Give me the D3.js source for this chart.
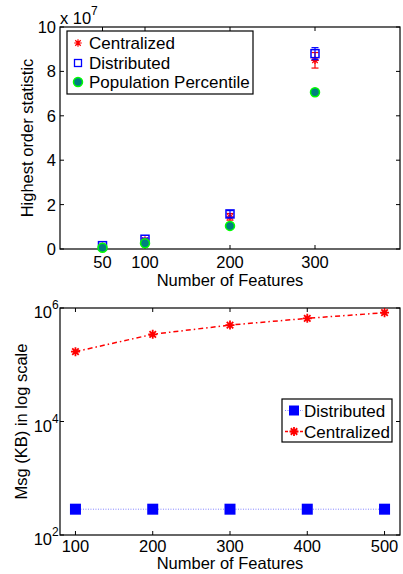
<!DOCTYPE html>
<html><head><meta charset="utf-8">
<script src="https://cdn.jsdelivr.net/npm/d3@7"></script>
<style>
html,body{margin:0;padding:0;background:#fff;}
text{font-family:"Liberation Sans",Arial,Helvetica,sans-serif;fill:#000;}
</style></head>
<body>
<svg id="c" width="403" height="574"></svg>
<script>
// ---------- data: top chart ----------
const featuresTop = [50, 100, 200, 300];
const xTicksTop = [50, 100, 200, 300];
const yTicksTop = [0, 2, 4, 6, 8, 10];
const centralizedMean = [0.12, 0.40, 1.45, 8.50];
const centralizedErr  = [0.03, 0.05, 0.15, 0.35];
const distributedMean = [0.15, 0.44, 1.58, 8.80];
const distributedErr  = [0.04, 0.05, 0.15, 0.27];
const percentile      = [0.06, 0.26, 1.04, 7.06];
const legendTop = ["Centralized", "Distributed", "Population Percentile"];

// ---------- data: bottom chart ----------
const featuresBottom = [100, 200, 300, 400, 500];
const xTicksBottom = [100, 200, 300, 400, 500];
const yTicksBottom = [100, 10000, 1000000];
const distributedKB = [285, 285, 285, 285, 285];
const centralizedKB = [170000, 344000, 500000, 658000, 826000];
const legendBottom = ["Distributed", "Centralized"];

const svg = d3.select("#c");
const FS = 17;     // legend text
const FT = 16.5;   // tick labels
const FL = 16.5;   // axis labels
const TL = 4;

function starPath(cx, cy, r) {
  const d = r * 0.72;
  return `M${cx - r},${cy}L${cx + r},${cy}M${cx},${cy - r}L${cx},${cy + r}` +
         `M${cx - d},${cy - d}L${cx + d},${cy + d}M${cx - d},${cy + d}L${cx + d},${cy - d}`;
}

function frame(g, x0, x1, y0, y1) {
  g.append("rect").attr("x", x0).attr("y", y0).attr("width", x1 - x0).attr("height", y1 - y0)
    .attr("fill", "none").attr("stroke", "#000").attr("stroke-width", 1.2);
}

// ================= TOP CHART =================
const xT = d3.scaleLinear().domain([0, 400]).range([60, 400]);
const yT = d3.scaleLinear().domain([0, 10]).range([249, 27]);
const gT = svg.append("g");

xTicksTop.forEach(v => {
  const x = xT(v);
  gT.append("line").attr("x1", x).attr("x2", x).attr("y1", yT(0)).attr("y2", yT(0) - TL).attr("stroke", "#000");
  gT.append("line").attr("x1", x).attr("x2", x).attr("y1", yT(10)).attr("y2", yT(10) + TL).attr("stroke", "#000");
  gT.append("text").attr("x", x).attr("y", 267.5).attr("text-anchor", "middle").attr("font-size", FT).text(v);
});
yTicksTop.forEach(v => {
  const y = yT(v);
  gT.append("line").attr("x1", 60).attr("x2", 60 + TL).attr("y1", y).attr("y2", y).attr("stroke", "#000");
  gT.append("line").attr("x1", 400).attr("x2", 400 - TL).attr("y1", y).attr("y2", y).attr("stroke", "#000");
  gT.append("text").attr("x", 56).attr("y", y + 6).attr("text-anchor", "end").attr("font-size", FT).text(v);
});
frame(gT, 60, 400, 27, 249);

// exponent label
gT.append("text").attr("x", 60).attr("y", 24).attr("font-size", FT).text("x 10");
gT.append("text").attr("x", 91).attr("y", 15).attr("font-size", 12).text("7");

gT.append("text").attr("x", 230).attr("y", 286).attr("text-anchor", "middle").attr("font-size", FL).text("Number of Features");
gT.append("text").attr("transform", `translate(33,${(27 + 249) / 2}) rotate(-90)`)
  .attr("text-anchor", "middle").attr("font-size", FL).text("Highest order statistic");

function errbar(g, x, m, e, color, cap) {
  const y1 = yT(m - e), y2 = yT(m + e);
  g.append("line").attr("x1", x).attr("x2", x).attr("y1", y1).attr("y2", y2).attr("stroke", color).attr("stroke-width", 1.2);
  g.append("line").attr("x1", x - cap).attr("x2", x + cap).attr("y1", y1).attr("y2", y1).attr("stroke", color).attr("stroke-width", 1.2);
  g.append("line").attr("x1", x - cap).attr("x2", x + cap).attr("y1", y2).attr("y2", y2).attr("stroke", color).attr("stroke-width", 1.2);
}

featuresTop.forEach((f, i) => {
  errbar(gT, xT(f), centralizedMean[i], centralizedErr[i], "#ff0000", 3.5);
  gT.append("path").attr("d", starPath(xT(f), yT(centralizedMean[i]), 3.8))
    .attr("stroke", "#ff0000").attr("stroke-width", 1.2).attr("fill", "none");
});
featuresTop.forEach((f, i) => {
  errbar(gT, xT(f), distributedMean[i], distributedErr[i], "#0000ff", 3.5);
  gT.append("rect").attr("x", xT(f) - 4).attr("y", yT(distributedMean[i]) - 4).attr("width", 8).attr("height", 8)
    .attr("fill", "none").attr("stroke", "#0000ff").attr("stroke-width", 1.5);
});
featuresTop.forEach((f, i) => {
  gT.append("circle").attr("cx", xT(f)).attr("cy", yT(percentile[i])).attr("r", 4.5)
    .attr("fill", "#007f7f").attr("stroke", "#00ff00").attr("stroke-width", 1.5);
});

const lgT = gT.append("g");
lgT.append("rect").attr("x", 67).attr("y", 31).attr("width", 186).attr("height", 63)
  .attr("fill", "#fff").attr("stroke", "#000").attr("stroke-width", 1.2);
const rowsT = [43, 63, 82];
legendTop.forEach((name, i) => {
  const cy = rowsT[i];
  if (i === 0) lgT.append("path").attr("d", starPath(78, cy, 3.8)).attr("stroke", "#ff0000").attr("stroke-width", 1.2).attr("fill", "none");
  if (i === 1) lgT.append("rect").attr("x", 74.5).attr("y", cy - 3.5).attr("width", 7).attr("height", 7).attr("fill", "none").attr("stroke", "#0000ff").attr("stroke-width", 1.3);
  if (i === 2) lgT.append("circle").attr("cx", 78).attr("cy", cy).attr("r", 4.5).attr("fill", "#007f7f").attr("stroke", "#00ff00").attr("stroke-width", 1.5);
  lgT.append("text").attr("x", 89).attr("y", cy + 6).attr("font-size", FS).text(name);
});

// ================= BOTTOM CHART =================
const xB = d3.scaleLinear().domain([80, 520]).range([60, 400]);
const yB = d3.scaleLog().domain([100, 1000000]).range([535, 308]);
const gB = svg.append("g");

xTicksBottom.forEach(v => {
  const x = xB(v);
  gB.append("line").attr("x1", x).attr("x2", x).attr("y1", 535).attr("y2", 535 - TL).attr("stroke", "#000");
  gB.append("line").attr("x1", x).attr("x2", x).attr("y1", 308).attr("y2", 308 + TL).attr("stroke", "#000");
  gB.append("text").attr("x", x).attr("y", 551.5).attr("text-anchor", "middle").attr("font-size", FT).text(v);
});
yTicksBottom.forEach(v => {
  const y = yB(v);
  gB.append("line").attr("x1", 60).attr("x2", 60 + TL).attr("y1", y).attr("y2", y).attr("stroke", "#000");
  gB.append("line").attr("x1", 400).attr("x2", 400 - TL).attr("y1", y).attr("y2", y).attr("stroke", "#000");
  gB.append("text").attr("x", 52).attr("y", y + 10).attr("text-anchor", "end").attr("font-size", FT).text("10");
  gB.append("text").attr("x", 52).attr("y", y + 1).attr("font-size", 12).text(Math.round(Math.log10(v)));
});
frame(gB, 60, 400, 308, 535);

gB.append("text").attr("x", 230).attr("y", 569).attr("text-anchor", "middle").attr("font-size", FL).text("Number of Features");
gB.append("text").attr("transform", `translate(27,${(308 + 535) / 2}) rotate(-90)`)
  .attr("text-anchor", "middle").attr("font-size", FL).text("Msg (KB) in log scale");

const lineD = d3.line().x(d => xB(d[0])).y(d => yB(d[1]));
gB.append("path").attr("d", lineD(featuresBottom.map((f, i) => [f, distributedKB[i]])))
  .attr("fill", "none").attr("stroke", "#8080ff").attr("stroke-width", 1).attr("stroke-dasharray", "1,1.5");
gB.append("path").attr("d", lineD(featuresBottom.map((f, i) => [f, centralizedKB[i]])))
  .attr("fill", "none").attr("stroke", "#ff0000").attr("stroke-width", 1.5).attr("stroke-dasharray", "5,3,1.5,3");
featuresBottom.forEach((f, i) => {
  gB.append("rect").attr("x", xB(f) - 5.5).attr("y", yB(distributedKB[i]) - 5.5).attr("width", 11).attr("height", 11).attr("fill", "#0000ff");
  gB.append("path").attr("d", starPath(xB(f), yB(centralizedKB[i]), 4.5)).attr("stroke", "#ff0000").attr("stroke-width", 1.8).attr("fill", "none");
});

const lgB = gB.append("g");
lgB.append("rect").attr("x", 282).attr("y", 399).attr("width", 110).attr("height", 43)
  .attr("fill", "#fff").attr("stroke", "#000").attr("stroke-width", 1.2);
const rowsB = [410.5, 431.5];
legendBottom.forEach((name, i) => {
  const cy = rowsB[i];
  if (i === 0) {
    lgB.append("line").attr("x1", 285).attr("x2", 303).attr("y1", cy).attr("y2", cy).attr("stroke", "#8080ff").attr("stroke-dasharray", "1,1.5");
    lgB.append("rect").attr("x", 289).attr("y", cy - 5).attr("width", 10).attr("height", 10).attr("fill", "#0000ff");
  } else {
    lgB.append("line").attr("x1", 285).attr("x2", 303).attr("y1", cy).attr("y2", cy).attr("stroke", "#ff0000").attr("stroke-width", 1.5).attr("stroke-dasharray", "3,2");
    lgB.append("path").attr("d", starPath(294, cy, 4.5)).attr("stroke", "#ff0000").attr("stroke-width", 1.8).attr("fill", "none");
  }
  lgB.append("text").attr("x", 304).attr("y", cy + 6).attr("font-size", FS).text(name);
});
</script>
</body></html>
